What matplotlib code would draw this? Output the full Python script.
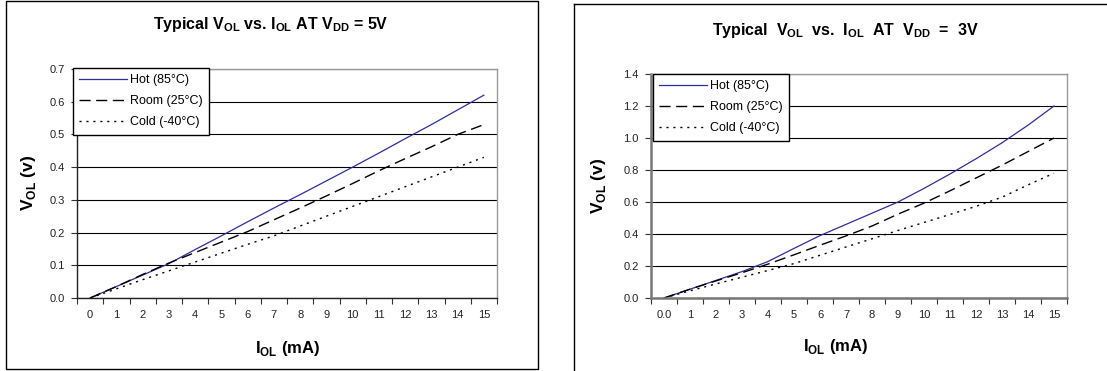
import matplotlib
matplotlib.use("Agg")
import matplotlib.pyplot as plt
from matplotlib.patches import Rectangle
from matplotlib.lines import Line2D

plt.rcParams['font.family'] = ['Liberation Sans', 'DejaVu Sans']
plt.rcParams['mathtext.fontset'] = 'custom'
plt.rcParams['mathtext.rm'] = 'Liberation Sans'
plt.rcParams['mathtext.bf'] = 'Liberation Sans:bold'

# ---- data ----
current_5v = list(range(16))
labels_5v = [str(i) for i in range(16)]
hot_5v = [0.0, 0.035, 0.07, 0.105, 0.148, 0.19, 0.233, 0.275, 0.316, 0.358, 0.40, 0.443, 0.487, 0.53, 0.575, 0.62]
room_5v = [0.0, 0.035, 0.072, 0.107, 0.139, 0.171, 0.203, 0.239, 0.275, 0.312, 0.35, 0.389, 0.426, 0.462, 0.50, 0.53]
cold_5v = [0.0, 0.028, 0.056, 0.083, 0.110, 0.137, 0.164, 0.19, 0.22, 0.25, 0.28, 0.31, 0.34, 0.37, 0.40, 0.43]

current_3v = list(range(16))
labels_3v = ['0.0'] + [str(i) for i in range(1, 16)]
hot_3v = [0.0, 0.055, 0.11, 0.165, 0.228, 0.31, 0.39, 0.46, 0.53, 0.60, 0.685, 0.775, 0.87, 0.97, 1.08, 1.2]
room_3v = [0.0, 0.055, 0.107, 0.158, 0.212, 0.27, 0.33, 0.388, 0.45, 0.524, 0.593, 0.67, 0.75, 0.83, 0.915, 1.0]
cold_3v = [0.0, 0.045, 0.088, 0.13, 0.172, 0.215, 0.267, 0.319, 0.37, 0.422, 0.472, 0.522, 0.573, 0.63, 0.707, 0.78]

series_names = ['Hot (85°C)', 'Room (25°C)', 'Cold (-40°C)']

W, H = 1107, 371
fig = plt.figure(figsize=(W / 100, H / 100), dpi=100)

def fx(px):
    return px / W

def fy(py):
    return 1 - py / H

# outer frames
fig.add_artist(Rectangle((fx(6), fy(369)), fx(538) - fx(6), fy(1) - fy(369),
                         transform=fig.transFigure, fill=False, edgecolor='black', lw=1))
fig.add_artist(Line2D([fx(574), fx(574)], [fy(371), fy(4)], transform=fig.transFigure,
                      color='black', lw=1))
fig.add_artist(Line2D([fx(574), fx(1107)], [fy(4), fy(4)], transform=fig.transFigure,
                      color='black', lw=1))

styles = [dict(color='#2e2e9a', lw=0.9, ls='-'),
          dict(color='black', lw=1.0, ls=(0, (8, 4))),
          dict(color='black', lw=1.0, ls=(0, (1.5, 3.5)))]


def make_panel(rect, xs, xlabels, series, ylim, ystep, yfmt, spine_style, legend_box):
    ax = fig.add_axes(rect)
    handles = []
    for vals, st, name in zip(series, styles, series_names):
        h, = ax.plot(xs, vals, label=name, **st)
        handles.append(h)
    ax.set_xlim(-0.5, len(xs) - 0.5)
    ax.set_ylim(0, ylim)
    n = int(round(ylim / ystep))
    yt = [i * ystep for i in range(n + 1)]
    ax.set_yticks(yt)
    ax.set_yticklabels([yfmt.format(v) for v in yt], fontsize=8, color='#222222')
    ax.yaxis.grid(True, color='black', lw=0.8)
    ax.set_axisbelow(True)
    ax.set_xticks([x - 0.5 for x in xs] + [xs[-1] + 0.5])
    ax.set_xticklabels([])
    ax.set_xticks(xs, minor=True)
    ax.set_xticklabels(xlabels, minor=True, fontsize=8, color='#222222')
    ax.tick_params(axis='x', which='minor', length=0, pad=9)
    ax.tick_params(axis='x', which='major', length=4, width=0.8, color='#333333')
    ax.tick_params(axis='y', length=4, width=0.8, pad=5, color='#333333')
    lc, lw, oc = spine_style
    ax.spines['left'].set_color(lc)
    ax.spines['left'].set_linewidth(lw)
    ax.spines['bottom'].set_color(lc)
    ax.spines['bottom'].set_linewidth(lw)
    ax.spines['top'].set_color(oc)
    ax.spines['right'].set_color(oc)
    ax.spines['top'].set_linewidth(1)
    ax.spines['right'].set_linewidth(1)
    leg = fig.legend(handles=handles, loc='upper left',
                     bbox_to_anchor=(fx(legend_box[0]), fy(legend_box[1])),
                     bbox_transform=fig.transFigure,
                     fontsize=9, frameon=True, fancybox=False, framealpha=1,
                     edgecolor='black', handlelength=3.8, handletextpad=0.25,
                     labelspacing=0.72, borderpad=0.5, borderaxespad=0)
    leg.get_frame().set_linewidth(1)
    return ax


axL = make_panel([fx(77), fy(298), fx(497) - fx(77), fy(69) - fy(298)],
                 current_5v, labels_5v, [hot_5v, room_5v, cold_5v], 0.7, 0.1, '{:.1f}',
                 ('#222222', 1.0, '#999999'), (73, 68))
axR = make_panel([fx(651), fy(298), fx(1067) - fx(651), fy(74) - fy(298)],
                 current_3v, labels_3v, [hot_3v, room_3v, cold_3v], 1.4, 0.2, '{:.1f}',
                 ('#777777', 1.8, '#999999'), (653, 74))

fig.text(fx(271), fy(25), r'Typical V$_{\mathbf{OL}}$ vs. I$_{\mathbf{OL}}$ AT V$_{\mathbf{DD}}$ = 5V',
         ha='center', va='center', fontsize=11.5, fontweight='bold')
fig.text(fx(845), fy(31), r'Typical  V$_{\mathbf{OL}}$  vs.  I$_{\mathbf{OL}}$  AT  V$_{\mathbf{DD}}$  =  3V',
         ha='center', va='center', fontsize=11.5, fontweight='bold')

fig.text(fx(28), fy(183), r'V$_{\mathbf{OL}}$ (v)', rotation=90, ha='center', va='center',
         fontsize=12.5, fontweight='bold')
fig.text(fx(598), fy(186), r'V$_{\mathbf{OL}}$ (v)', rotation=90, ha='center', va='center',
         fontsize=12.5, fontweight='bold')
fig.text(fx(288), fy(349), r'I$_{\mathbf{OL}}$ (mA)', ha='center', va='center',
         fontsize=12, fontweight='bold')
fig.text(fx(836), fy(347), r'I$_{\mathbf{OL}}$ (mA)', ha='center', va='center',
         fontsize=12, fontweight='bold')

fig.savefig('out.png', dpi=100)
